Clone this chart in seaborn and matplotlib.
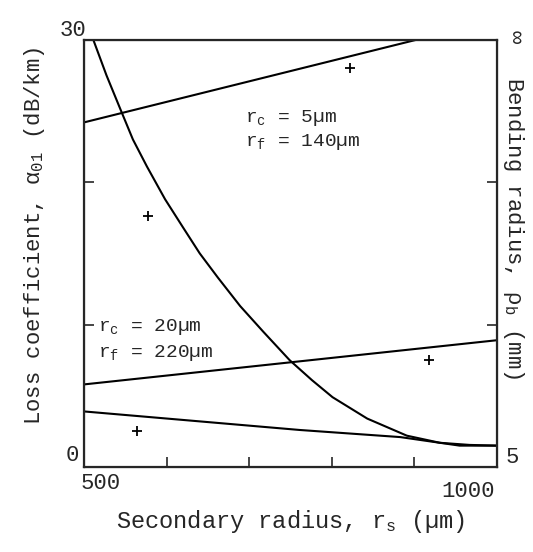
import numpy as np
import pandas as pd
import seaborn as sns
import matplotlib.pyplot as plt
from matplotlib.transforms import ScaledTranslation

# values
radius_curve = [511, 527, 544, 559, 576, 598, 620, 640, 662, 689, 717, 749,
                776, 801, 843, 891, 931, 967, 1000]
loss_curve = [30.0, 27.5, 25.1, 23.0, 21.1, 18.8, 16.8, 15.0, 13.3, 11.3, 9.5,
              7.5, 6.1, 4.9, 3.4, 2.2, 1.7, 1.55, 1.5]

radius_top = [500, 1000]
loss_top = [24.2, 31.4]

radius_mid = [500, 1000]
loss_mid = [5.8, 8.9]

radius_low = [500, 761, 883, 955, 1000]
loss_low = [3.9, 2.6, 2.1, 1.5, 1.5]

radius_meas = [577, 822, 564, 918]
loss_meas = [17.6, 28.0, 2.5, 7.5]

x_ticks = [500, 600, 700, 800, 900, 1000]
x_labels = ["500", "", "", "", "", "1000"]
y_ticks = [0, 10, 20, 30]
y_labels = ["0", "", "", "30"]
bend_labels = ["5", "", "", "∞"]

sns.set_style("ticks")
plt.rcParams["font.family"] = ["Liberation Mono", "DejaVu Sans"]
plt.rcParams["mathtext.default"] = "regular"

fig = plt.figure(figsize=(5.33, 5.52), dpi=100)
ax = fig.add_axes([0.158, 0.154, 0.774, 0.774])

lines = [
    (radius_curve, loss_curve),
    (radius_top, loss_top),
    (radius_mid, loss_mid),
    (radius_low, loss_low),
]
for xs, ys in lines:
    sns.lineplot(x=xs, y=ys, ax=ax, color="black", linewidth=1.5, sort=False)

meas = pd.DataFrame({"radius": radius_meas, "loss": loss_meas})
sns.scatterplot(data=meas, x="radius", y="loss", ax=ax, marker="+", s=60,
                color="black", linewidth=1.3)

ax.set_xlim(500, 1000)
ax.set_ylim(0, 30)
ax.set_xticks(x_ticks)
ax.set_xticklabels(x_labels, fontsize=16)
ax.set_yticks(y_ticks)
ax.set_yticklabels(y_labels, fontsize=16)
ax.tick_params(direction="in", length=7, width=1.2, pad=4)
for s in ax.spines.values():
    s.set_linewidth(1.6)

ax.set_xlabel("Secondary radius, r$_s$ (µm)", fontsize=17, labelpad=5)
ax.set_ylabel("Loss coefficient, α$_{01}$ (dB/km)", fontsize=16)
ax.yaxis.set_label_coords(-0.09, 0.54)

# right-hand bending radius axis
ax2 = ax.twinx()
ax2.set_ylim(0, 30)
ax2.set_yticks(y_ticks)
ax2.set_yticklabels(bend_labels, fontsize=16)
ax2.tick_params(direction="in", length=7, width=1.2, pad=6)
ax2.set_ylabel("Bending radius, ρ$_b$ (mm)", fontsize=16, rotation=-90)
ax2.yaxis.set_label_coords(1.07, 0.56)
ax2.get_yticklabels()[3].set_rotation(-90)

# nudge end labels like the original print
dpi = fig.dpi
def nudge(lbl, dx, dy):
    lbl.set_transform(lbl.get_transform() + ScaledTranslation(dx / dpi, dy / dpi, fig.dpi_scale_trans))

xl = ax.get_xticklabels()
nudge(xl[0], 16, 0)
nudge(xl[5], -29, -8)
yl = ax.get_yticklabels()
nudge(yl[0], 0, 14)
nudge(yl[3], 8, 12)
rl = ax2.get_yticklabels()
nudge(rl[0], 0, 12)
nudge(rl[3], 0, 2)

ax.text(695, 24.5, "r$_c$ = 5µm", fontsize=14, va="center")
ax.text(695, 22.8, "r$_f$ = 140µm", fontsize=14, va="center")
ax.text(517, 9.8, "r$_c$ = 20µm", fontsize=14, va="center")
ax.text(517, 8.0, "r$_f$ = 220µm", fontsize=14, va="center")

fig.savefig("out.png", dpi=100)
